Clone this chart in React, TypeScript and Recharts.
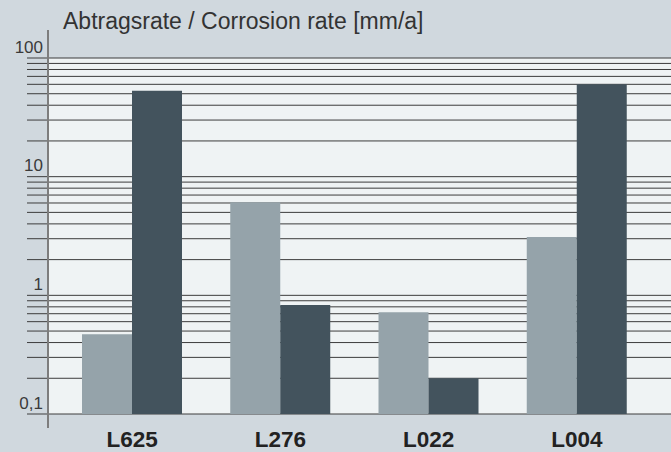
import { BarChart, Bar, XAxis, YAxis, CartesianGrid } from 'recharts'

const categories = ['L625', 'L276', 'L022', 'L004']
const seriesLight = [0.47, 6.1, 0.72, 3.1]
const seriesDark = [53, 0.83, 0.2, 60]
const yTicks = [
  0.1, 0.2, 0.3, 0.4, 0.5, 0.6, 0.7, 0.8, 0.9,
  1, 2, 3, 4, 5, 6, 7, 8, 9,
  10, 20, 30, 40, 50, 60, 70, 80, 90,
  100,
]
const labelledTicks: Record<string, string> = { '0.1': '0,1', '1': '1', '10': '10', '100': '100' }
const title = 'Abtragsrate / Corrosion rate [mm/a]'

const data = categories.map((name, i) => ({ name, light: seriesLight[i], dark: seriesDark[i] }))

const FONT = '"Liberation Sans", Arial, Helvetica, sans-serif'
const GRID = '#3c3c3c'

function YTick(props: any) {
  const { x, y, payload } = props
  const label = labelledTicks[String(payload.value)]
  return (
    <g>
      <line x1={x - 21} x2={x} y1={y} y2={y} stroke={GRID} strokeWidth={1} />
      {label && (
        <text x={x - 5} y={y - 5.5} textAnchor="end" fontSize={17} fill="#3a3a3a" fontFamily={FONT}>
          {label}
        </text>
      )}
    </g>
  )
}

function XTick(props: any) {
  const { x, y, payload } = props
  return (
    <text x={x} y={y + 33} textAnchor="middle" fontSize={22.5} fontWeight="bold" fill="#222" fontFamily={FONT}>
      {payload.value}
    </text>
  )
}

export default function App() {
  return (
    <div style={{ position: 'absolute', left: 0, top: 0, width: 671, height: 452, background: '#d0d8de', fontFamily: FONT }}>
      <div style={{ position: 'absolute', left: 63, top: 10, fontSize: 23, lineHeight: '23px', color: '#333', whiteSpace: 'nowrap' }}>
        {title}
      </div>
      <BarChart width={671} height={452} data={data} margin={{ top: 58, right: 0, bottom: 0, left: 0 }} barGap={0} barSize={50}>
        <CartesianGrid vertical={false} stroke={GRID} strokeWidth={1} fill="#eff3f4" />
        <XAxis
          dataKey="name"
          padding={{ left: 10, right: 20 }}
          axisLine={false}
          tickLine={false}
          tickSize={0}
          tickMargin={0}
          height={38}
          tick={<XTick />}
          interval={0}
        />
        <YAxis
          type="number"
          scale="log"
          domain={[0.1, 100]}
          allowDataOverflow
          ticks={yTicks}
          width={48}
          axisLine={false}
          tickLine={false}
          tickSize={0}
          tickMargin={0}
          tick={<YTick />}
          interval={0}
        />
        <Bar dataKey="light" fill="#95a3aa" isAnimationActive={false} />
        <Bar dataKey="dark" fill="#43535d" isAnimationActive={false} />
      </BarChart>
      <div style={{ position: 'absolute', left: 47, top: 30, width: 1.5, height: 398, background: '#7d7d7d' }} />
    </div>
  )
}
